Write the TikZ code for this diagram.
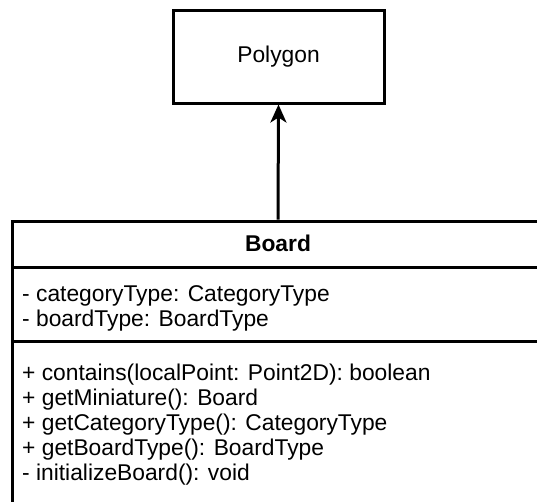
\documentclass[tikz,border=0pt]{standalone}
\usepackage{fontspec}
\setmainfont{Liberation Sans}
\usetikzlibrary{arrows.meta}

\tikzset{
  classbox/.style={draw=black, line width=3pt, rectangle, inner sep=0pt},
  umltext/.style={font=\fontsize{22.8}{25}\selectfont},
  member/.style={umltext, anchor=base west, inner sep=0pt},
  divider/.style={line width=3pt},
}

\begin{document}
\begin{tikzpicture}[x=1pt, y=-1pt]
  \useasboundingbox (0,0) rectangle (537,501);
  \clip (0,0) rectangle (537,501);

  % parent class
  \node[classbox, umltext, minimum width=211pt, minimum height=93pt] (polygon) at (278.5,56.5) {Polygon};

  % Board class, runs off the right and bottom edges
  \node[classbox, minimum width=531pt, minimum height=330pt] (board) at (278,386) {};
  \node[font=\fontsize{22.8}{25}\selectfont\bfseries] (boardname) at (278,243) {Board};

  \coordinate (titlebar) at (0,267);
  \coordinate (fieldbar) at (0,341);
  \draw[divider] (board.west |- titlebar) -- (board.east |- titlebar);
  \draw[divider] (board.west |- fieldbar) -- (board.east |- fieldbar);

  % fields
  \node[member] (field1) at (22,301) {- categoryType: CategoryType};
  \node[member] (field2) at (22,326) {- boardType: BoardType};

  % methods
  \node[member] (method1) at (22,380) {+ contains(localPoint: Point2D): boolean};
  \node[member] (method2) at (22,405) {+ getMiniature(): Board};
  \node[member] (method3) at (22,430) {+ getCategoryType(): CategoryType};
  \node[member] (method4) at (22,455) {+ getBoardType(): BoardType};
  \node[member] (method5) at (22,480) {- initializeBoard(): void};

  % generalization
  \draw[line width=3pt, -{Stealth[length=18pt, width=16pt, inset=5pt]}] (board.north) -- (polygon.south);
\end{tikzpicture}
\end{document}
